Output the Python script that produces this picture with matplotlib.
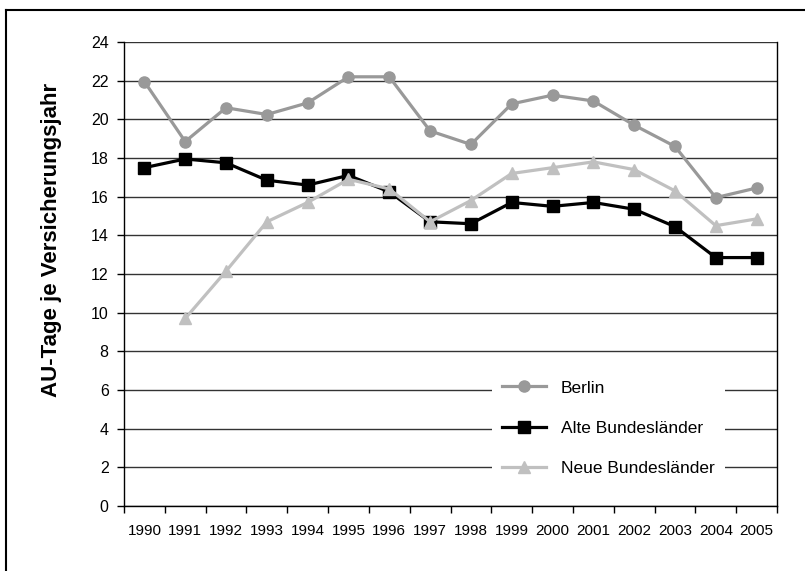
import numpy as np
import matplotlib
matplotlib.use('Agg')
import matplotlib.pyplot as plt
from matplotlib.lines import Line2D

plt.rcParams['font.family'] = ['Liberation Sans', 'DejaVu Sans']

years = ['1990', '1991', '1992', '1993', '1994', '1995', '1996', '1997',
         '1998', '1999', '2000', '2001', '2002', '2003', '2004', '2005']
berlin = [21.95, 18.85, 20.6, 20.25, 20.85, 22.2, 22.2, 19.4,
          18.7, 20.8, 21.25, 20.95, 19.7, 18.6, 15.95, 16.45]
alte = [17.5, 17.95, 17.75, 16.85, 16.6, 17.1, 16.25, 14.7,
        14.6, 15.7, 15.5, 15.7, 15.35, 14.45, 12.85, 12.85]
neue = [np.nan, 9.7, 12.15, 14.7, 15.7, 16.9, 16.4, 14.7,
        15.8, 17.2, 17.5, 17.8, 17.4, 16.3, 14.5, 14.85]
yticks = [0, 2, 4, 6, 8, 10, 12, 14, 16, 18, 20, 22, 24]

fig = plt.figure(figsize=(8.05, 5.71), dpi=100)
ax = fig.add_axes([124/805, 1-506/571, (777-124)/805, (506-42)/571])

x = np.arange(len(years))
ax.plot(x, berlin, color='#999999', lw=2.3, marker='o', ms=8, label='Berlin', zorder=3)
ax.plot(x, alte, color='black', lw=2.3, marker='s', ms=8, label='Alte Bundesländer', zorder=4)
ax.plot(x, neue, color='#c0c0c0', lw=2.3, marker='^', ms=9, label='Neue Bundesländer', zorder=5)

ax.set_xlim(-0.5, len(years) - 0.5)
ax.set_ylim(0, 24)
ax.set_yticks(yticks)
ax.set_yticklabels([str(v) for v in yticks], fontsize=11.5)
ax.yaxis.grid(True, color='#333333', lw=1)
ax.set_axisbelow(True)
ax.tick_params(axis='y', direction='out', length=5, width=1, pad=6)

ax.set_xticks(x)
ax.set_xticklabels(years, fontsize=11)
ax.set_xticks(np.arange(-0.5, len(years)), minor=True)
ax.tick_params(axis='x', which='major', length=0, pad=13)
ax.tick_params(axis='x', which='minor', direction='out', length=5, width=1)

ax.spines['top'].set_visible(False)
for s in ['left', 'bottom', 'right']:
    ax.spines[s].set_color('black')
    ax.spines[s].set_linewidth(1)

fig.text(51/805, 1-240/571, 'AU-Tage je Versicherungsjahr', rotation=90,
         ha='center', va='center', fontsize=16, fontweight='bold')

leg = ax.legend(loc='upper left', bbox_to_anchor=(492/805, 1-370/571),
                bbox_transform=fig.transFigure, fontsize=12.5, frameon=True,
                fancybox=False, borderaxespad=0, handlelength=2.5,
                handletextpad=0.85, labelspacing=1.45, borderpad=0.6)
leg.get_frame().set_facecolor('white')
leg.get_frame().set_edgecolor('none')
leg.get_frame().set_alpha(1)
leg.set_zorder(10)

# outer frame (left and top only visible)
fig.add_artist(Line2D([6/805, 6/805], [0, 1-10/571], color='black', lw=1.5))
fig.add_artist(Line2D([6/805, 1], [1-10/571, 1-10/571], color='black', lw=1.5))

fig.savefig('out.png', dpi=100)
